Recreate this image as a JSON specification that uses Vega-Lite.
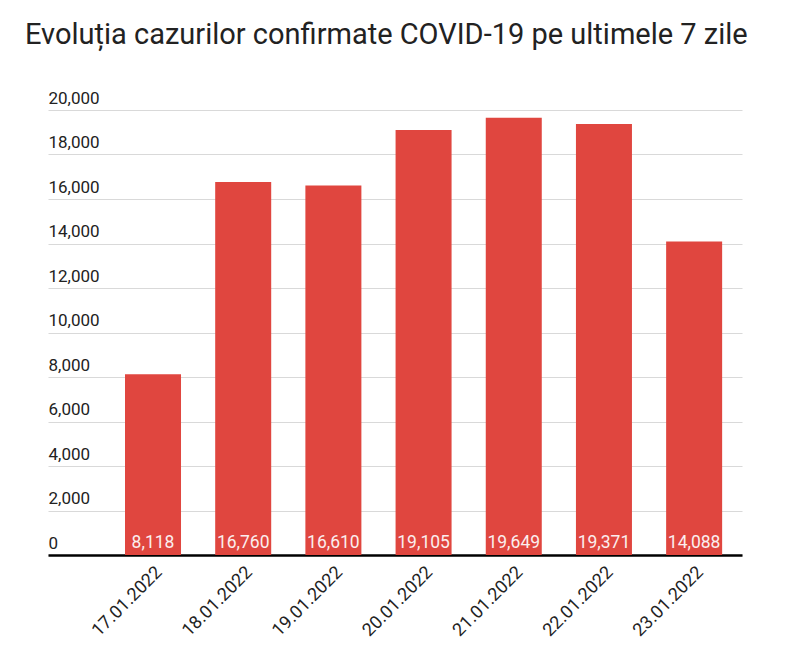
{
  "$schema": "https://vega.github.io/schema/vega-lite/v6.json",
  "autosize": "none",
  "width": 694,
  "height": 445,
  "padding": {"left": 48, "top": 110, "right": 58, "bottom": 108},
  "background": "white",
  "title": {
    "text": "Evoluția cazurilor confirmate COVID-19 pe ultimele 7 zile",
    "anchor": "start",
    "frame": "group",
    "dx": -23,
    "offset": 39,
    "font": "Roboto",
    "fontSize": 29,
    "fontWeight": "normal",
    "color": "#222222"
  },
  "data": {
    "values": [
      {"data": "17.01.2022", "cazuri": 8118},
      {"data": "18.01.2022", "cazuri": 16760},
      {"data": "19.01.2022", "cazuri": 16610},
      {"data": "20.01.2022", "cazuri": 19105},
      {"data": "21.01.2022", "cazuri": 19649},
      {"data": "22.01.2022", "cazuri": 19371},
      {"data": "23.01.2022", "cazuri": 14088}
    ]
  },
  "encoding": {
    "x": {
      "field": "data",
      "type": "nominal",
      "sort": null,
      "title": null,
      "scale": {"paddingInner": 0.379, "paddingOuter": 0.537, "align": 0.795},
      "axis": {
        "labelAngle": -45,
        "labelFont": "Roboto",
        "labelFontSize": 18,
        "labelColor": "#222222",
        "ticks": false,
        "labelPadding": 8,
        "domainColor": "#000000",
        "domainWidth": 2.5,
        "grid": false
      }
    },
    "y": {
      "field": "cazuri",
      "type": "quantitative",
      "title": null,
      "scale": {"domain": [0, 20000], "nice": false},
      "axis": {
        "values": [0, 2000, 4000, 6000, 8000, 10000, 12000, 14000, 16000, 18000, 20000],
        "format": ",d",
        "domain": false,
        "ticks": false,
        "labelAlign": "left",
        "labelBaseline": "bottom",
        "labelPadding": 0,
        "labelOffset": -3,
        "labelFont": "Roboto",
        "labelFontSize": 17,
        "labelColor": "#222222",
        "gridColor": "#d9d9d9",
        "gridWidth": 1
      }
    }
  },
  "layer": [
    {"mark": {"type": "bar", "color": "#e0463f"}},
    {
      "mark": {"type": "text", "color": "#fbeeee", "font": "Roboto", "fontSize": 17.5, "baseline": "alphabetic", "dy": -7},
      "encoding": {
        "y": {"datum": 0},
        "text": {"field": "cazuri", "type": "quantitative", "format": ","}
      }
    }
  ],
  "config": {"view": {"stroke": null}}
}
